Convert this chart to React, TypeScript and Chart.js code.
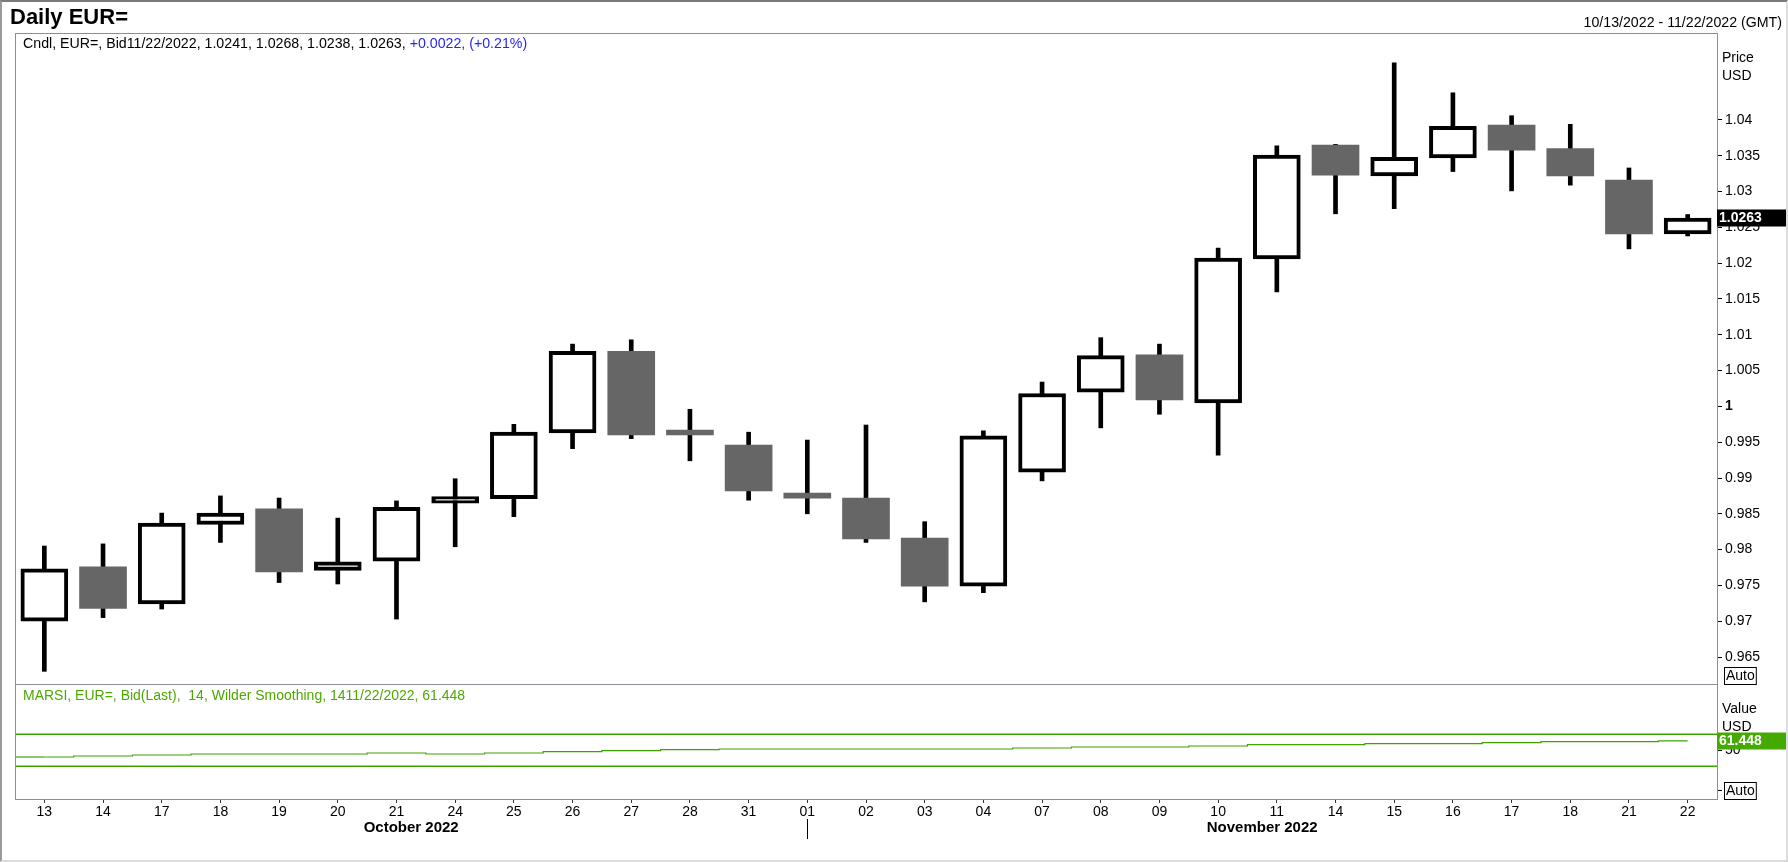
import React, { useEffect, useRef } from 'react';
import { Chart, registerables } from 'chart.js';

Chart.register(...registerables);

const FONT = "'Liberation Sans', Arial, sans-serif";

const DAY_LABELS = ['13', '14', '17', '18', '19', '20', '21', '24', '25', '26', '27', '28', '31', '01', '02', '03', '04', '07', '08', '09', '10', '11', '14', '15', '16', '17', '18', '21', '22'];

const OPEN = [0.9700, 0.9776, 0.9724, 0.9835, 0.9857, 0.9771, 0.9784, 0.9865, 0.9871, 0.9963, 1.0077, 0.9967, 0.9946, 0.9879, 0.9872, 0.9816, 0.9749, 0.9908, 1.0020, 1.0072, 1.0005, 1.0206, 1.0365, 1.0322, 1.0347, 1.0393, 1.0360, 1.0316, 1.0241];
const HIGH = [0.9805, 0.9808, 0.9851, 0.9875, 0.9872, 0.9844, 0.9868, 0.9899, 0.9975, 1.0087, 1.0093, 0.9996, 0.9964, 0.9953, 0.9974, 0.9839, 0.9966, 1.0034, 1.0096, 1.0087, 1.0221, 1.0364, 1.0366, 1.0480, 1.0438, 1.0406, 1.0394, 1.0333, 1.0268];
const LOW = [0.9630, 0.9705, 0.9717, 0.9810, 0.9754, 0.9752, 0.9703, 0.9804, 0.9846, 0.9941, 0.9955, 0.9924, 0.9869, 0.9850, 0.9810, 0.9727, 0.9740, 0.9896, 0.9970, 0.9989, 0.9932, 1.0160, 1.0269, 1.0276, 1.0328, 1.0301, 1.0309, 1.0220, 1.0238];
const CLOSE = [0.9773, 0.9718, 0.9837, 0.9851, 0.9769, 0.9783, 0.9859, 0.9874, 0.9964, 1.0077, 0.9960, 0.9960, 0.9882, 0.9872, 0.9815, 0.9749, 0.9959, 1.0018, 1.0071, 1.0009, 1.0207, 1.0351, 1.0323, 1.0348, 1.0391, 1.0358, 1.0322, 1.0241, 1.0263];

const RSI = [41.25, 42.5, 43.75, 45, 45, 45, 46.25, 45, 46.25, 47.9, 49.2, 50.4, 51.25, 51.25, 51.25, 51.25, 51.25, 52.5, 53.75, 53.75, 55.0, 56.6, 56.6, 57.9, 57.9, 59.2, 60.4, 60.4, 61.448];
const RSI_BANDS = [70, 30];
const RSI_TICKS = [0, 50];
const PRICE_TICKS = [0.965, 0.97, 0.975, 0.98, 0.985, 0.99, 0.995, 1, 1.005, 1.01, 1.015, 1.02, 1.025, 1.03, 1.035, 1.04];

const MONTH_LABELS = ['October 2022', 'November 2022'];
const MONTH_START = [0, 13];

const PANEL = '#8c8c9c';
const GREEN = '#3ea200';
const GREEN_TEXT = '#4ea800';
const DOWN = '#666666';

function drawAxisCaption(ctx: CanvasRenderingContext2D, area: any, lines: string[]) {
  ctx.save();
  ctx.fillStyle = '#000';
  ctx.font = `14px ${FONT}`;
  ctx.textBaseline = 'middle';
  ctx.textAlign = 'left';
  ctx.fillText(lines[0], area.right + 5, area.top + 25);
  ctx.fillText(lines[1], area.right + 5, area.top + 43);
  // Auto button
  const y = area.bottom - 8;
  const w = ctx.measureText('Auto').width;
  ctx.fillStyle = '#fff';
  ctx.fillRect(area.right + 7.5, y - 8.5, w + 3, 17);
  ctx.strokeStyle = '#000';
  ctx.lineWidth = 1;
  ctx.strokeRect(area.right + 7.5, y - 8.5, w + 3, 17);
  ctx.fillStyle = '#000';
  ctx.fillText('Auto', area.right + 9, y + 0.5);
  ctx.restore();
}

function drawValueBox(ctx: CanvasRenderingContext2D, area: any, y: number, text: string, bg: string) {
  ctx.save();
  ctx.fillStyle = bg;
  ctx.fillRect(area.right, Math.round(y) - 8.5, 71, 17);
  ctx.fillStyle = '#fff';
  ctx.font = `bold 14px ${FONT}`;
  ctx.textBaseline = 'middle';
  ctx.textAlign = 'left';
  ctx.fillText(text, area.right + 2, Math.round(y) + 0.5);
  ctx.restore();
}

const pricePlugin = {
  id: 'priceDecor',
  afterDraw(chart: any) {
    const { ctx, chartArea: a } = chart;
    ctx.save();
    ctx.strokeStyle = PANEL;
    ctx.lineWidth = 1;
    ctx.strokeRect(a.left + 0.5, a.top + 0.5, a.right - a.left, a.bottom - a.top);
    ctx.restore();
    drawAxisCaption(ctx, a, ['Price', 'USD']);
    const last = CLOSE[CLOSE.length - 1];
    drawValueBox(ctx, a, chart.scales.y.getPixelForValue(last), String(last), '#000');
  },
};

const rsiPlugin = {
  id: 'rsiDecor',
  beforeDatasetsDraw(chart: any) {
    const { ctx, chartArea: a, scales } = chart;
    ctx.save();
    ctx.strokeStyle = GREEN;
    ctx.lineWidth = 1.5;
    RSI_BANDS.forEach((v) => {
      const y = Math.round(scales.y.getPixelForValue(v)) + 0.25;
      ctx.beginPath();
      ctx.moveTo(a.left, y);
      ctx.lineTo(a.right, y);
      ctx.stroke();
    });
    // extend the step line to the left edge of the panel
    const p0 = chart.getDatasetMeta(0).data[0];
    if (p0) {
      ctx.lineWidth = 1.2;
      ctx.beginPath();
      ctx.moveTo(a.left, p0.y);
      ctx.lineTo(p0.x, p0.y);
      ctx.stroke();
    }
    ctx.restore();
  },
  afterDraw(chart: any) {
    const { ctx, chartArea: a, scales } = chart;
    ctx.save();
    ctx.strokeStyle = PANEL;
    ctx.lineWidth = 1;
    ctx.strokeRect(a.left + 0.5, a.top + 0.5, a.right - a.left, a.bottom - a.top);
    ctx.restore();
    drawAxisCaption(ctx, a, ['Value', 'USD']);
    const last = RSI[RSI.length - 1];
    drawValueBox(ctx, a, scales.y.getPixelForValue(last), last.toFixed(3), '#44aa00');

    // month labels and separators
    const xs = scales.x;
    ctx.save();
    ctx.fillStyle = '#000';
    ctx.font = `bold 15px ${FONT}`;
    ctx.textAlign = 'center';
    ctx.textBaseline = 'middle';
    MONTH_LABELS.forEach((m, k) => {
      const s = MONTH_START[k];
      const e = k + 1 < MONTH_START.length ? MONTH_START[k + 1] - 1 : DAY_LABELS.length - 1;
      const step = xs.getPixelForTick(1) - xs.getPixelForTick(0);
      const cx = (xs.getPixelForTick(s) + xs.getPixelForTick(e)) / 2 + step * 0.25;
      ctx.fillText(m, cx, a.bottom + 29);
      if (s > 0) {
        const x = Math.round(xs.getPixelForTick(s)) + 0.5;
        ctx.strokeStyle = '#000';
        ctx.lineWidth = 1;
        ctx.beginPath();
        ctx.moveTo(x, a.bottom + 20);
        ctx.lineTo(x, a.bottom + 40);
        ctx.stroke();
      }
    });
    ctx.restore();
  },
};

export default function App() {
  const priceRef = useRef<HTMLCanvasElement>(null);
  const rsiRef = useRef<HTMLCanvasElement>(null);

  useEffect(() => {
    document.body.style.margin = '0';
    const up = OPEN.map((o, i) => CLOSE[i] >= o);
    const priceChart = new Chart(priceRef.current as HTMLCanvasElement, {
      type: 'bar',
      data: {
        labels: DAY_LABELS,
        datasets: [
          {
            label: 'Body',
            data: OPEN.map((o, i) => [o, CLOSE[i]]) as any,
            backgroundColor: up.map((u) => (u ? '#ffffff' : DOWN)),
            borderColor: up.map((u) => (u ? '#000000' : DOWN)),
            borderWidth: up.map((u) => (u ? 4 : 0)),
            borderSkipped: false,
            barThickness: 47,
            grouped: false,
            order: 0,
          } as any,
          {
            label: 'Wick',
            data: LOW.map((l, i) => [l, HIGH[i]]) as any,
            backgroundColor: '#000000',
            borderWidth: 0,
            barThickness: 4,
            grouped: false,
            order: 1,
          } as any,
        ],
      },
      options: {
        responsive: false,
        animation: false,
        layout: { padding: { top: 33, left: 15, right: 0, bottom: 178 } },
        plugins: { legend: { display: false }, tooltip: { enabled: false } },
        scales: {
          x: { display: false, offset: true },
          y: {
            position: 'right',
            min: 0.96123,
            max: 1.05215,
            afterFit: (s: any) => { s.width = 71; },
            afterBuildTicks: (s: any) => { s.ticks = PRICE_TICKS.map((v) => ({ value: v })); },
            border: { display: false },
            grid: { drawOnChartArea: false, tickLength: 5, color: '#000' },
            ticks: {
              padding: 3,
              color: '#000',
              font: (c: any) => ({ family: FONT, size: 14, weight: c.tick && c.tick.value === 1 ? 'bold' : 'normal' }),
              callback: (v: any) => String(parseFloat(Number(v).toFixed(4))),
            },
          },
        },
      } as any,
      plugins: [pricePlugin],
    });

    const rsiChart = new Chart(rsiRef.current as HTMLCanvasElement, {
      type: 'line',
      data: {
        labels: DAY_LABELS,
        datasets: [
          {
            label: 'RSI',
            data: RSI,
            borderColor: GREEN,
            borderWidth: 1.2,
            stepped: 'middle',
            pointRadius: 0,
            fill: false,
          } as any,
        ],
      },
      options: {
        responsive: false,
        animation: false,
        layout: { padding: { top: 684, left: 15, right: 0, bottom: 0 } },
        plugins: { legend: { display: false }, tooltip: { enabled: false } },
        scales: {
          x: {
            offset: true,
            afterFit: (s: any) => { s.height = 63; },
            border: { display: false },
            grid: { drawOnChartArea: false, tickLength: 4, color: '#333', offset: false },
            ticks: { padding: 1, color: '#000', autoSkip: false, maxRotation: 0, font: { family: FONT, size: 14 } },
          },
          y: {
            position: 'right',
            min: -11.25,
            max: 132.5,
            afterFit: (s: any) => { s.width = 71; },
            afterBuildTicks: (s: any) => { s.ticks = RSI_TICKS.map((v) => ({ value: v })); },
            border: { display: false },
            grid: { drawOnChartArea: false, tickLength: 5, color: '#000' },
            ticks: {
              padding: 3,
              color: '#000',
              font: { family: FONT, size: 14 },
              callback: (v: any) => (Number(v) === 0 ? '' : String(v)),
            },
          },
        },
      } as any,
      plugins: [rsiPlugin],
    });

    return () => {
      priceChart.destroy();
      rsiChart.destroy();
    };
  }, []);

  const abs: React.CSSProperties = { position: 'absolute', whiteSpace: 'nowrap', fontFamily: FONT };

  return (
    <div style={{ position: 'fixed', left: 0, top: 0, width: 1788, height: 862, background: '#fff', overflow: 'hidden' }}>
      <canvas ref={priceRef} width={1788} height={862} style={{ position: 'absolute', left: 0, top: 0, width: 1788, height: 862 }} />
      <canvas ref={rsiRef} width={1788} height={862} style={{ position: 'absolute', left: 0, top: 0, width: 1788, height: 862 }} />
      <div style={{ ...abs, left: 10, top: 6, fontSize: 22, lineHeight: '22px', fontWeight: 'bold', color: '#000' }}>Daily EUR=</div>
      <div style={{ ...abs, right: 6, top: 15, fontSize: 14.2, lineHeight: '14px', color: '#000' }}>10/13/2022 - 11/22/2022 (GMT)</div>
      <div style={{ ...abs, left: 23, top: 36, fontSize: 14.2, lineHeight: '14px', color: '#000' }}>
        Cndl, EUR=, Bid11/22/2022, 1.0241, 1.0268, 1.0238, 1.0263, <span style={{ color: '#2828e6' }}>+0.0022, (+0.21%)</span>
      </div>
      <div style={{ ...abs, left: 23, top: 688, fontSize: 14, lineHeight: '14px', color: GREEN_TEXT }}>
        MARSI, EUR=, Bid(Last),&nbsp; 14, Wilder Smoothing, 1411/22/2022, 61.448
      </div>
      <div style={{ position: 'absolute', left: 0, top: 0, width: 1788, height: 862, boxSizing: 'border-box', borderTop: '2px solid #7a7a7a', borderLeft: '2px solid #9a9a9a', borderRight: '2px solid #dcdcdc', borderBottom: '2px solid #dcdcdc', pointerEvents: 'none' }} />
    </div>
  );
}
